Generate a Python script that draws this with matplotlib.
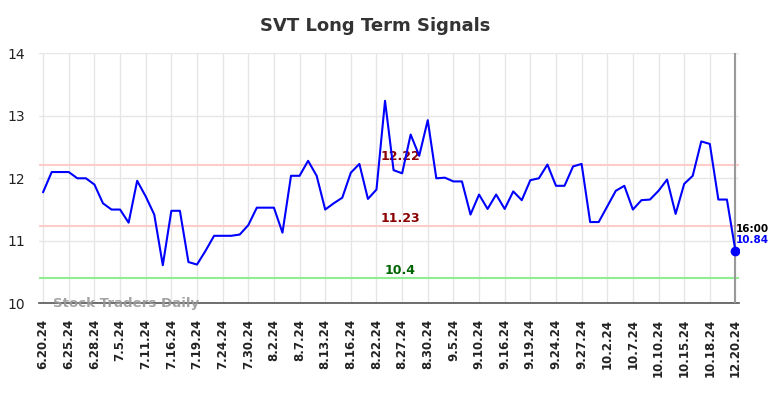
import matplotlib
matplotlib.use("Agg")
import matplotlib.pyplot as plt

prices = [11.78, 12.10, 12.10, 12.10, 12.00, 12.00, 11.90, 11.60, 11.50, 11.50,
          11.29, 11.96, 11.71, 11.42, 10.61, 11.48, 11.48, 10.66, 10.62, 10.84,
          11.08, 11.08, 11.08, 11.10, 11.25, 11.53, 11.53, 11.53, 11.13, 12.04,
          12.04, 12.28, 12.04, 11.50, 11.60, 11.69, 12.09, 12.23, 11.67, 11.82,
          13.24, 12.13, 12.08, 12.70, 12.36, 12.93, 12.00, 12.01, 11.95, 11.95,
          11.42, 11.74, 11.51, 11.74, 11.51, 11.79, 11.65, 11.97, 12.00, 12.22,
          11.88, 11.88, 12.19, 12.23, 11.30, 11.30, 11.55, 11.80, 11.88, 11.50,
          11.65, 11.66, 11.80, 11.98, 11.43, 11.91, 12.04, 12.59, 12.55, 11.66,
          11.66, 10.84]

tick_labels = ["6.20.24", "6.25.24", "6.28.24", "7.5.24", "7.11.24", "7.16.24",
               "7.19.24", "7.24.24", "7.30.24", "8.2.24", "8.7.24", "8.13.24",
               "8.16.24", "8.22.24", "8.27.24", "8.30.24", "9.5.24", "9.10.24",
               "9.16.24", "9.19.24", "9.24.24", "9.27.24", "10.2.24", "10.7.24",
               "10.10.24", "10.15.24", "10.18.24", "12.20.24"]
tick_step = 3

resistance_upper = 12.22
resistance_lower = 11.23
support = 10.4
last_time = "16:00"
y_ticks = [10, 11, 12, 13, 14]

fig = plt.figure(figsize=(7.84, 3.98), dpi=100)
ax = fig.add_axes([39.3 / 784, 1 - 303.3 / 398, 700 / 784, 250 / 398])

x = list(range(len(prices)))
ax.plot(x, prices, color="blue", lw=1.5, zorder=4)
ax.plot(x[-1], prices[-1], "o", color="blue", ms=6, zorder=5)

ax.axhline(resistance_upper, color="#ffcccc", lw=1.5, zorder=2)
ax.axhline(resistance_lower, color="#ffcccc", lw=1.5, zorder=2)
ax.axhline(support, color="#90ee90", lw=1.5, zorder=2)
ax.axvline(x[-1], color="#999999", lw=1.5, zorder=3)

mid = 41.8
ax.text(mid, resistance_upper + 0.02, f"{resistance_upper}", color="#8b0000",
        fontsize=9, fontweight="bold", ha="center", va="bottom")
ax.text(mid, resistance_lower + 0.02, f"{resistance_lower}", color="#8b0000",
        fontsize=9, fontweight="bold", ha="center", va="bottom")
ax.text(mid, support + 0.02, f"{support}", color="#006400",
        fontsize=9, fontweight="bold", ha="center", va="bottom")

ax.text(x[-1] + 0.1, prices[-1] + 0.27, last_time, color="black", fontsize=7.5,
        fontweight="bold", ha="left", va="bottom")
ax.text(x[-1] + 0.1, prices[-1] + 0.25, f"{prices[-1]}", color="blue", fontsize=7.5,
        fontweight="bold", ha="left", va="top")

ax.text(1.2, 10.0, "Stock Traders Daily", color="#999999", fontsize=9.6,
        fontweight="bold", ha="left", va="center", alpha=0.9, zorder=6)

ax.set_xlim(-0.45, 81.45)
ax.set_ylim(10, 14)
ax.set_yticks(y_ticks)
ax.set_xticks(x[::tick_step])
ax.set_xticklabels(tick_labels, rotation=90, fontsize=8.5, fontweight="bold")
ax.tick_params(axis="both", length=0, colors="#222222")
ax.tick_params(axis="y", labelsize=10, pad=10)
ax.tick_params(axis="x", pad=11)
ax.grid(True, color="#e6e6e6", lw=1)
ax.set_axisbelow(True)
for s in ["left", "right", "top"]:
    ax.spines[s].set_visible(False)
ax.spines["bottom"].set_color("#555555")
ax.spines["bottom"].set_linewidth(1.2)

fig.text(375 / 784, 1 - 26 / 398, "SVT Long Term Signals", ha="center", va="center",
         fontsize=13, fontweight="bold", color="#333333")

fig.savefig("out.png", dpi=100)
